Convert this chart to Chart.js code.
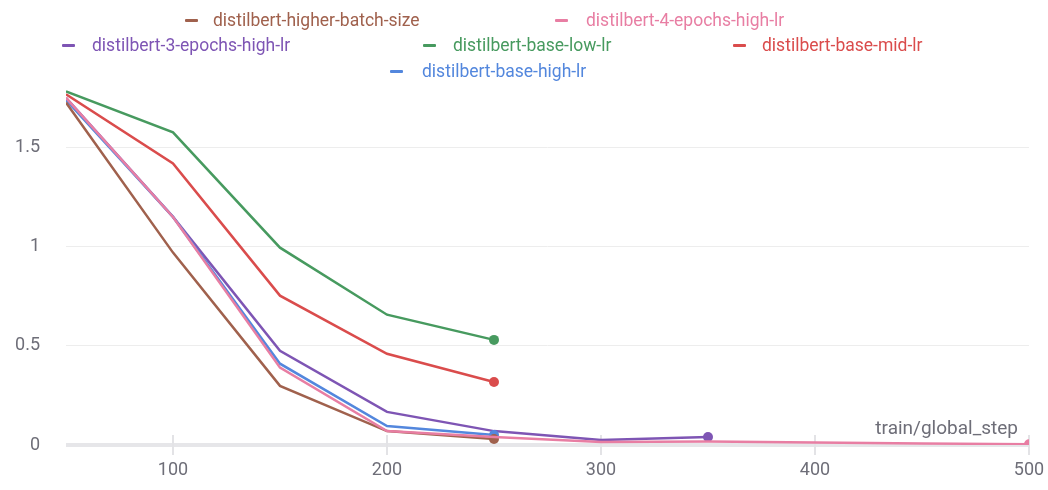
<!DOCTYPE html>
<html>
<head>
<meta charset="utf-8">
<script src="https://cdn.jsdelivr.net/npm/chart.js@4"></script>
<style>
  body { margin: 0; background: #fff; font-family: Roboto, "Noto Sans", sans-serif; }
  #wrap { position: relative; width: 1048px; height: 490px; }
  canvas { position: absolute; left: 0; top: 0; }
  .item { position: absolute; font-size: 17.5px; white-space: nowrap; line-height: 20px; }
  .mark { position: absolute; width: 13px; height: 3px; border-radius: 1px; }
</style>
</head>
<body>
<div id="wrap">
  <canvas id="grafica" width="1048" height="490"></canvas>
  <div id="leyenda"></div>
</div>
<script>
// pasos de entrenamiento
const pasos = [50, 100, 150, 200, 250, 300, 350, 400, 450, 500];
const ticksX = [100, 200, 300, 400, 500];
const ticksY = [0, 0.5, 1, 1.5];

// valores de loss por corrida
const higherBatch = [1.727, 0.97, 0.298, 0.07, 0.03];
const cuatroEpochs = [1.75, 1.15, 0.39, 0.07, 0.04, 0.015, 0.018, 0.012, 0.008, 0.004];
const tresEpochs = [1.75, 1.15, 0.475, 0.167, 0.07, 0.025, 0.04];
const baseLow = [1.783, 1.576, 0.995, 0.657, 0.53];
const baseMid = [1.768, 1.42, 0.753, 0.46, 0.318];
const baseHigh = [1.74, 1.15, 0.41, 0.096, 0.05];

const nombres = ['distilbert-higher-batch-size', 'distilbert-4-epochs-high-lr', 'distilbert-3-epochs-high-lr',
                 'distilbert-base-low-lr', 'distilbert-base-mid-lr', 'distilbert-base-high-lr'];
const colores = ['#a0614d', '#e87ea3', '#7e55b4', '#479a5f', '#da4c4c', '#5387dd'];
const series = [higherBatch, cuatroEpochs, tresEpochs, baseLow, baseMid, baseHigh];

// posicion de cada item de la leyenda (marca, texto, fila)
const posLeyenda = [[185, 213, 20], [555, 586, 20], [62, 92, 45], [423, 453, 45], [733, 762, 45], [390, 422, 71]];

const leyenda = document.getElementById('leyenda');
nombres.forEach((n, i) => {
    const p = posLeyenda[i];
    const m = document.createElement('div');
    m.className = 'mark';
    m.style.left = p[0] + 'px';
    m.style.top = (p[2] - 1) + 'px';
    m.style.background = colores[i];
    leyenda.appendChild(m);
    const t = document.createElement('div');
    t.className = 'item';
    t.style.left = p[1] + 'px';
    t.style.top = (p[2] - 10) + 'px';
    t.style.color = colores[i];
    t.textContent = n;
    leyenda.appendChild(t);
});

const ordenDibujo = [3, 0, 5, 1, 2, 4];
const datasets = series.map((vals, i) => {
    const puntos = vals.map((v, j) => ({ x: pasos[j], y: v }));
    const ultimo = puntos.length - 1;
    return {
        label: nombres[i],
        data: puntos,
        borderColor: colores[i],
        backgroundColor: colores[i],
        borderWidth: 2.5,
        pointRadius: c => c.dataIndex === ultimo ? 5 : 0,
        pointBorderWidth: 0,
        tension: 0,
        order: ordenDibujo[i]
    };
});

// marcas verticales del eje x y titulo del eje
const extras = {
    id: 'extras',
    beforeDatasetsDraw(chart) {
        const ctx = chart.ctx;
        const x = chart.scales.x, y = chart.scales.y;
        const y0 = y.getPixelForValue(0);
        ctx.save();
        ctx.strokeStyle = '#e3e3e6';
        ctx.lineWidth = 2;
        ticksX.forEach(v => {
            const px = x.getPixelForValue(v);
            ctx.beginPath();
            ctx.moveTo(px, y0 - 10);
            ctx.lineTo(px, y0 + 10);
            ctx.stroke();
        });
        ctx.fillStyle = '#6e6e78';
        ctx.font = '19px Roboto';
        ctx.textAlign = 'right';
        ctx.textBaseline = 'middle';
        ctx.fillText('train/global_step', 1018, 429);
        ctx.restore();
    }
};

new Chart(document.getElementById('grafica'), {
    type: 'line',
    data: { datasets: datasets },
    plugins: [extras],
    options: {
        responsive: false,
        animation: false,
        layout: { padding: { top: 88, right: 19, left: 0, bottom: 0 } },
        plugins: { legend: { display: false }, tooltip: { enabled: false } },
        scales: {
            x: {
                type: 'linear',
                min: 50,
                max: 500,
                afterFit: s => { s.height = 45; s.paddingLeft = 0; s.paddingRight = 0; },
                afterBuildTicks: s => { s.ticks = ticksX.map(v => ({ value: v })); },
                grid: { display: false, drawTicks: false },
                border: { display: false },
                ticks: { color: '#6e6e78', font: { family: 'Roboto', size: 18 }, padding: 15, maxRotation: 0 }
            },
            y: {
                min: 0,
                max: 1.8,
                afterFit: s => { s.width = 66; s.paddingTop = 0; s.paddingBottom = 0; },
                afterBuildTicks: s => { s.ticks = ticksY.map(v => ({ value: v })); },
                grid: {
                    drawTicks: false,
                    color: c => c.tick.value === 0 ? '#e6e6e9' : '#ededed',
                    lineWidth: c => c.tick.value === 0 ? 4 : 1
                },
                border: { display: false },
                ticks: {
                    color: '#6e6e78',
                    font: { family: 'Roboto', size: 18 },
                    padding: 26,
                    callback: v => String(v)
                }
            }
        }
    }
});
</script>
</body>
</html>
